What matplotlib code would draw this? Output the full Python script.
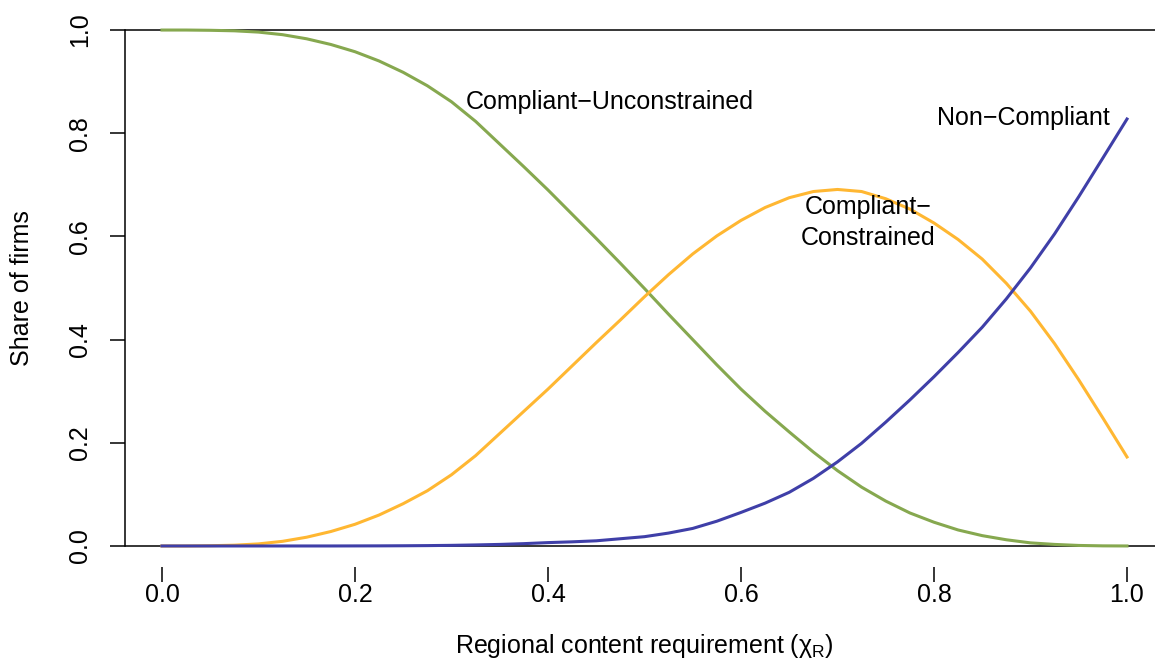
import numpy as np
import matplotlib
matplotlib.use("Agg")
import matplotlib.pyplot as plt

plt.rcParams['font.family'] = ['Liberation Sans', 'DejaVu Sans']
plt.rcParams['mathtext.fontset'] = 'custom'
plt.rcParams['mathtext.rm'] = 'Liberation Sans'
plt.rcParams['mathtext.it'] = 'Liberation Sans'

# regional content requirement grid (step 0.025)
chi = [0.0, 0.025, 0.05, 0.075, 0.1, 0.125, 0.15, 0.175, 0.2, 0.225,
       0.25, 0.275, 0.3, 0.325, 0.35, 0.375, 0.4, 0.425, 0.45, 0.475,
       0.5, 0.525, 0.55, 0.575, 0.6, 0.625, 0.65, 0.675, 0.7, 0.725,
       0.75, 0.775, 0.8, 0.825, 0.85, 0.875, 0.9, 0.925, 0.95, 0.975, 1.0]

# share of firms in each regime
unconstrained = [1.0, 1.0, 0.9995, 0.9985, 0.996, 0.991, 0.983, 0.972, 0.958, 0.940,
                 0.918, 0.892, 0.861, 0.823, 0.779, 0.735, 0.690, 0.643, 0.596, 0.548,
                 0.499, 0.449, 0.400, 0.351, 0.304, 0.261, 0.221, 0.182, 0.146, 0.114,
                 0.087, 0.064, 0.046, 0.031, 0.020, 0.012, 0.006, 0.003, 0.001, 0.0002, 0.0]
constrained = [0.0, 0.0, 0.0005, 0.0015, 0.004, 0.009, 0.017, 0.028, 0.042, 0.060,
               0.082, 0.107, 0.138, 0.175, 0.218, 0.261, 0.304, 0.349, 0.394, 0.438,
               0.483, 0.526, 0.566, 0.601, 0.631, 0.656, 0.675, 0.687, 0.691, 0.687,
               0.673, 0.653, 0.626, 0.594, 0.556, 0.509, 0.455, 0.392, 0.322, 0.248, 0.1725]
noncompliant = [0.0, 0.0, 0.0, 0.0, 0.0, 0.0, 0.0, 0.0, 0.0001, 0.0002,
                0.0004, 0.0007, 0.0012, 0.002, 0.003, 0.0045, 0.0065, 0.008, 0.010, 0.014,
                0.018, 0.025, 0.034, 0.048, 0.065, 0.083, 0.104, 0.131, 0.163, 0.199,
                0.240, 0.283, 0.328, 0.375, 0.424, 0.479, 0.539, 0.605, 0.677, 0.752, 0.8275]

col_unc = '#86A84F'
col_con = '#FFB732'
col_non = '#3F3FA8'

W, H = 1155, 658
fig = plt.figure(figsize=(W / 100, H / 100), dpi=100)
# plot region in pixels; right side runs past the figure edge
x0, x1 = 125, 1165.6
y0, y1 = 566.6, 9.4
ax = fig.add_axes([x0 / W, 1 - y0 / H, (x1 - x0) / W, (y0 - y1) / H])
ax.set_xlim(-0.0383, 1.04)
ax.set_ylim(-0.04, 1.04)

ax.plot(chi, unconstrained, color=col_unc, lw=2.2)
ax.plot(chi, constrained, color=col_con, lw=2.2)
ax.plot(chi, noncompliant, color=col_non, lw=2.2)

ax.axhline(0, color='black', lw=1.1, zorder=0)
ax.axhline(1, color='black', lw=1.1, zorder=0)

for s in ['top', 'right', 'bottom']:
    ax.spines[s].set_visible(False)
ax.spines['left'].set_bounds(0, 1)
ax.spines['left'].set_linewidth(1.1)

fs = 18
ticks = [0.0, 0.2, 0.4, 0.6, 0.8, 1.0]
labels = ['0.0', '0.2', '0.4', '0.6', '0.8', '1.0']
ax.set_xticks(ticks)
ax.set_xticklabels(labels, fontsize=fs)
ax.set_yticks(ticks)
ax.set_yticklabels(labels, fontsize=fs, rotation=90, va='center')
ax.tick_params(axis='both', length=11, width=1.1, color='black')
ax.tick_params(axis='x', pad=1)
ax.tick_params(axis='y', pad=13)

ax.set_xlabel(r'Regional content requirement ($\chi_{\mathrm{R}}$)', fontsize=fs)
ax.xaxis.set_label_coords((644 - x0) / (x1 - x0), (y0 - 632) / (y0 - y1))
ax.set_ylabel('Share of firms', fontsize=fs)
ax.yaxis.set_label_coords((34 - x0) / (x1 - x0), 0.5 + (y0 - 546 - (30 - y1)) / 2 / (y0 - y1))

ax.text(0.464, 0.860, 'Compliant\u2212Unconstrained', fontsize=fs, ha='center', va='center')
ax.text(0.732, 0.627, 'Compliant\u2212\nConstrained', fontsize=fs, ha='center', va='center',
        linespacing=1.35)
ax.text(0.982, 0.829, 'Non\u2212Compliant', fontsize=fs, ha='right', va='center')

fig.savefig('out.png', dpi=100)
